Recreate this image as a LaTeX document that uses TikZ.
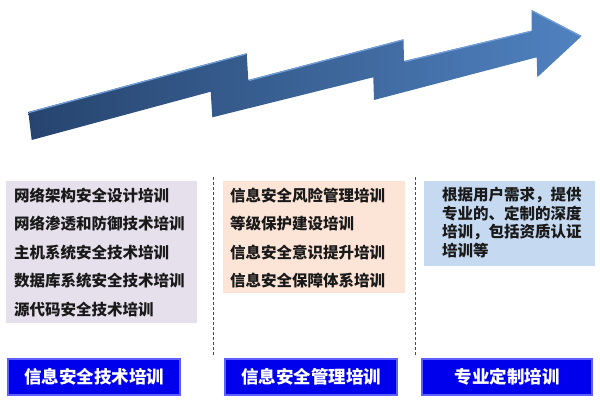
\documentclass[tikz,border=0pt]{standalone}
\usepackage{fontspec}
\newfontfamily\cjk{Noto Sans CJK SC}
\usepackage{xcolor}
\usepackage{tikz}
\usetikzlibrary{shapes}
\definecolor{arrowdark}{RGB}{38,68,110}
\definecolor{arrowlight}{RGB}{80,130,192}
\definecolor{arrowedge}{RGB}{112,158,218}
\definecolor{techfill}{RGB}{229,224,236}
\definecolor{mgmtfill}{RGB}{252,228,214}
\definecolor{custfill}{RGB}{197,217,241}
\definecolor{tabblue}{RGB}{0,0,236}
\definecolor{tabedge}{RGB}{95,95,255}
\tikzstyle{panel}=[rectangle,inner sep=0pt]
\tikzstyle{item}=[anchor=west,inner sep=0pt,text=black!90,font=\cjk\bfseries\fontsize{15.5}{18.5}\selectfont]
\tikzstyle{tab}=[rectangle,fill=tabblue,draw=tabedge,line width=1.2pt,minimum height=36pt,text=white,font=\cjk\bfseries\fontsize{17.5}{20}\selectfont]
\tikzstyle{divider}=[densely dashed,draw=gray!60!black,line width=0.8pt]

\begin{document}
\begin{tikzpicture}[x=1pt,y=-1pt]
        \useasboundingbox (0,0) rectangle (600,405);

        % rising arrow
        \shade [left color=arrowdark,right color=arrowlight]
          (31.7,140) -- (28.3,112) -- (246.7,53.3) -- (248.3,80) -- (403.5,39.3)
          -- (404,61) -- (531.7,30.7) -- (531.7,10) -- (581.7,36) -- (537.3,77.3)
          -- (536.7,57.3) -- (374,100) -- (373.3,77.3) -- (212.3,117.3)
          -- (210.7,91.7) -- cycle;
        \draw [arrowedge,line width=1.2pt] (29,112.5) -- (246,54);
        \draw [arrowedge,line width=1.2pt] (249,80.5) -- (403,40);
        \draw [arrowedge,line width=1.2pt] (405,61.5) -- (531,31.3);
        \draw [arrowedge,line width=1.2pt] (532,10.8) -- (581,36.3);

        % panels
        \node at (101.5,252) [panel,fill=techfill,minimum width=191pt,minimum height=142pt] (techpanel) {};
        \node at (314,237)   [panel,fill=mgmtfill,minimum width=182pt,minimum height=112pt] (mgmtpanel) {};
        \node at (509.5,223.5) [panel,fill=custfill,minimum width=171pt,minimum height=85pt] (custpanel) {};

        \node at (14,195.5) [item] (tech1) {网络架构安全设计培训};
        \node at (14,224)   [item] (tech2) {网络渗透和防御技术培训};
        \node at (14,252.5) [item] (tech3) {主机系统安全技术培训};
        \node at (14,281)   [item] (tech4) {数据库系统安全技术培训};
        \node at (14,309.5) [item] (tech5) {源代码安全技术培训};

        \node at (230,195.5) [item] (mgmt1) {信息安全风险管理培训};
        \node at (230,224)   [item] (mgmt2) {等级保护建设培训};
        \node at (230,252.5) [item] (mgmt3) {信息安全意识提升培训};
        \node at (230,281)   [item] (mgmt4) {信息安全保障体系培训};

        \node at (442,222.5) [item,align=left] (cust1) {根据用户需求，提供\\专业的、定制的深度\\培训，包括资质认证\\培训等};

        % dividers
        \coordinate (div1top) at (213.5,177);
        \coordinate (div1bot) at (213.5,355);
        \coordinate (div2top) at (415,177);
        \coordinate (div2bot) at (415,355);
        \draw [divider] (div1top) -- (div1bot);
        \draw [divider] (div2top) -- (div2bot);

        % tabs
        \node at (94,377)  [tab,minimum width=172pt] (techtab) {信息安全技术培训};
        \node at (311,377) [tab,minimum width=172pt] (mgmttab) {信息安全管理培训};
        \node at (507,377) [tab,minimum width=170pt] (custtab) {专业定制培训};
      \end{tikzpicture}
\end{document}
